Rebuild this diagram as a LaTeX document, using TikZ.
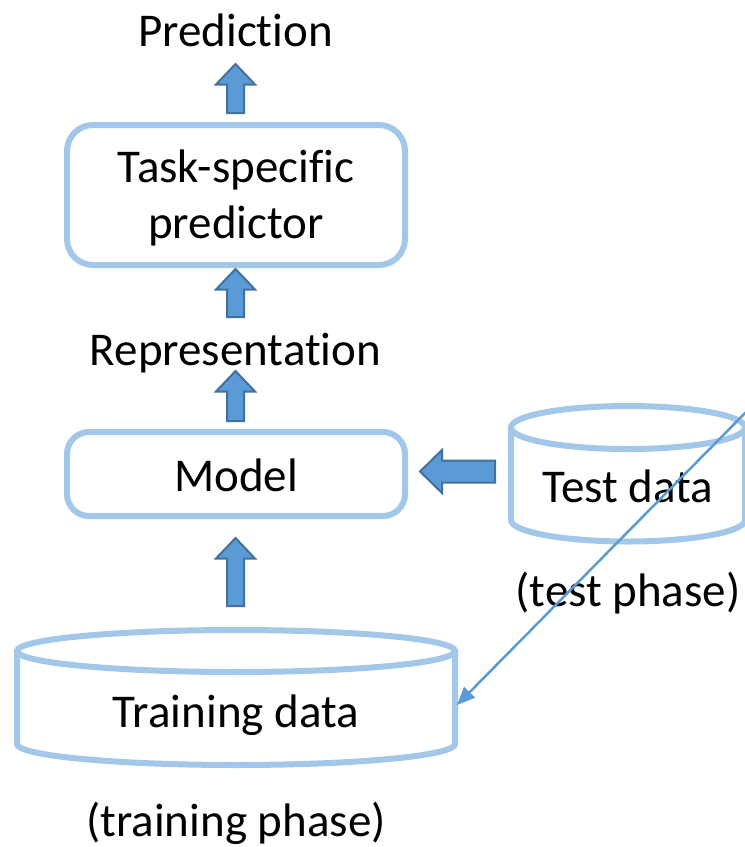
\documentclass[tikz,border=0pt]{standalone}
\usepackage{fontspec}
\setmainfont[Ligatures={NoCommon,NoContextual}]{Carlito}
\usetikzlibrary{arrows.meta}
\definecolor{boxblue}{HTML}{A2C7E8}
\definecolor{arrfill}{HTML}{5B9BD5}
\definecolor{arrline}{HTML}{41719C}
\tikzset{
  outline/.style={draw=boxblue, line width=6pt},
  blockarr/.style={fill=arrfill, draw=arrline, line width=2pt, line join=miter},
  lbl/.style={anchor=base, inner sep=0pt, font=\fontsize{47}{56}\selectfont},
  thin/.style={draw=arrfill, line width=2.5pt, -{Triangle[length=18pt,width=15pt]}}
}
% up block arrow: center x, tip y, bottom y (y grows downwards)
\newcommand{\blkup}[3]{%
  \path[blockarr] (#1-8.5,#3) -- (#1-8.5,#2+20.5) -- (#1-19.5,#2+20.5) -- (#1,#2)
    -- (#1+19.5,#2+20.5) -- (#1+8.5,#2+20.5) -- (#1+8.5,#3) -- cycle;}
\begin{document}
\begin{tikzpicture}[x=1pt,y=-1pt]
\useasboundingbox (0,0) rectangle (745,847);
% boxes
\draw[outline, rounded corners=26pt] (67,125) rectangle (405,265);
\draw[outline, rounded corners=22pt] (67,432) rectangle (405,516);
% training data cylinder
\draw[outline] (236,651) ellipse [x radius=219, y radius=21];
\draw[outline] (17,651) -- (17,744) arc[start angle=180, end angle=0, x radius=219, y radius=21] -- (455,651);
% test data cylinder
\draw[outline] (628,427.5) ellipse [x radius=117, y radius=21.5];
\draw[outline] (511,427.5) -- (511,520) arc[start angle=180, end angle=0, x radius=117, y radius=21.5] -- (745,427.5);
% texts
\node[lbl] (pred) at (235.5,46) {Predict\kern0pt ion};
\node[lbl, align=center] (task) at (236,238) {Task-specific\\predictor};
\node[lbl] (repr) at (235.5,365) {Representat\kern0pt ion};
\node[lbl] (model) at (236,491) {Model};
\node[lbl] (train) at (236,727) {Training data};
\node[lbl] (test) at (628,502) {Test data};
\node[lbl] (tphase) at (628,606) {(test phase)};
\node[lbl] (trphase) at (236,836) {(training phase)};
% block arrows
\blkup{235.5}{64}{113}
\blkup{235.5}{269}{317}
\blkup{235.5}{371}{421}
\blkup{235.5}{538}{606}
\path[blockarr] (495,460.5) -- (442,460.5) -- (442,450) -- (420,471.5) -- (442,493) -- (442,482.5) -- (495,482.5) -- cycle;
% thin arrow
\coordinate (src) at (752,406);
\coordinate (dst) at (457,705);
\draw[thin] (src) -- (dst);
\end{tikzpicture}
\end{document}
